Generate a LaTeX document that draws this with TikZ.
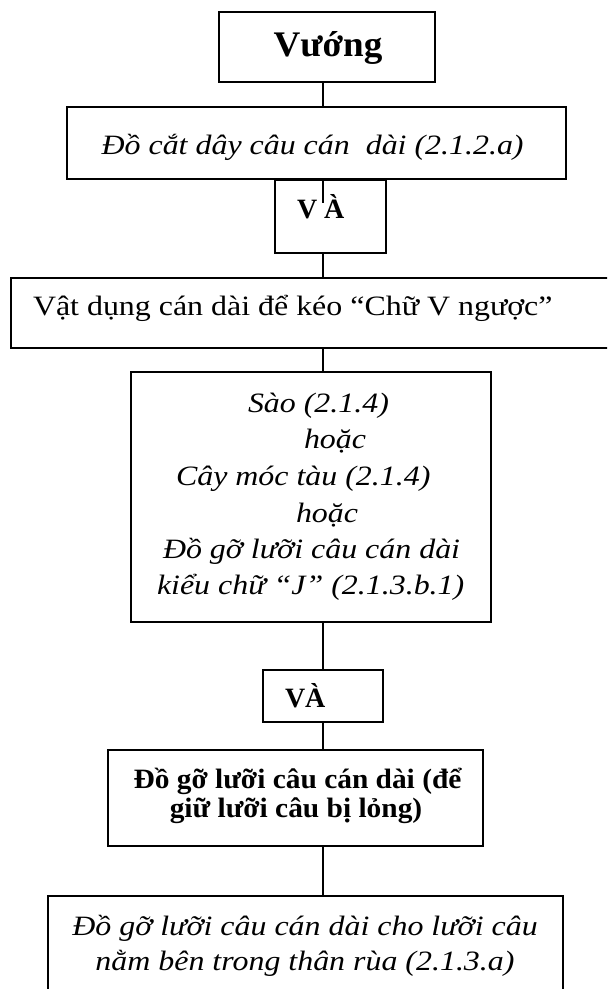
\documentclass[tikz,border=0pt]{standalone}
\usepackage{graphicx}
\usepackage{fontspec}
\setmainfont{Liberation Serif}
\newcommand{\widetxt}[1]{\scalebox{1.14}[1]{#1}}
\newcommand{\widebf}[1]{\scalebox{1.05}[1]{#1}}
\begin{document}
\begin{tikzpicture}[x=0.5pt,y=-0.5pt,
  box/.style={draw, line width=1pt, inner sep=0pt, outer sep=0pt, rectangle},
  conn/.style={line width=1pt},
  txt/.style={inner sep=0pt, outer sep=0pt, anchor=base, font=\fontsize{14}{17}\selectfont},
  txtl/.style={txt, anchor=base west},
  it/.style={font=\fontsize{14}{17}\selectfont\itshape},
  bf/.style={font=\fontsize{14}{17}\selectfont\bfseries}]
\useasboundingbox (0,0) rectangle (607,989);
\begin{scope}
\clip (0,0) rectangle (607,989);
\fill[white] (0,0) rectangle (607,989);
\coordinate (axis) at (323,0);
% boxes
\node[box, minimum width=108pt, minimum height=35pt] (b1) at (327,47) {};
\node[box, minimum width=249.5pt, minimum height=36pt] (b2) at (316.5,143) {};
\node[box, minimum width=55.5pt, minimum height=36.5pt] (b3) at (330.5,216.5) {};
\node[box, minimum width=307pt, minimum height=35pt] (b4) at (318,313) {};
\node[box, minimum width=180pt, minimum height=125pt] (b5) at (311,497) {};
\node[box, minimum width=60pt, minimum height=26pt] (b6) at (323,696) {};
\node[box, minimum width=187.5pt, minimum height=48pt] (b7) at (295.5,798) {};
\node[box, minimum width=257.5pt, minimum height=57pt] (b8) at (305.5,953) {};
% texts
\node[txt, font=\fontsize{18}{20}\selectfont\bfseries] (t1) at (328,57) {\scalebox{1.03}[1]{Vướng}};
\node[txt, it] (t2) at (312.6,155) {\widetxt{Đồ cắt dây câu cán~ dài (2.1.2.a)}};
\node[txtl, bf] (t3) at (297,219) {V À};
\node[txtl] (t4) at (33,315) {\widetxt{Vật dụng cán dài để kéo “Chữ V ngược”}};
\node[txtl, it] (t5a) at (248,412) {\widetxt{Sào (2.1.4)}};
\node[txtl, it] (t5b) at (304,448) {\widetxt{hoặc}};
\node[txtl, it] (t5c) at (176,485) {\widetxt{Cây móc tàu (2.1.4)}};
\node[txtl, it] (t5d) at (296,522) {\widetxt{hoặc}};
\node[txtl, it] (t5e) at (163,558) {\widetxt{Đồ gỡ lưỡi câu cán dài}};
\node[txtl, it] (t5f) at (157,594) {\widetxt{kiểu chữ “J” (2.1.3.b.1)}};
\node[txtl, bf] (t6) at (285,707) {VÀ};
\node[txt, bf] (t7a) at (297.5,788) {\widebf{Đồ gỡ lưỡi câu cán dài (để}};
\node[txt, bf] (t7b) at (296,817) {\widebf{giữ lưỡi câu bị lỏng)}};
\node[txt, it] (t8a) at (305,935) {\widetxt{Đồ gỡ lưỡi câu cán dài cho lưỡi câu}};
\node[txt, it] (t8b) at (305,970) {\widetxt{nằm bên trong thân rùa (2.1.3.a)}};
% connectors
\coordinate (s3) at (323,203);
\draw[conn] (b1.south -| axis) -- (b2.north -| axis);
\draw[conn] (b2.south -| axis) -- (s3);
\draw[conn] (b3.south -| axis) -- (b4.north -| axis);
\draw[conn] (b4.south -| axis) -- (b5.north -| axis);
\draw[conn] (b5.south -| axis) -- (b6.north -| axis);
\draw[conn] (b6.south -| axis) -- (b7.north -| axis);
\draw[conn] (b7.south -| axis) -- (b8.north -| axis);
\end{scope}
\end{tikzpicture}
\end{document}
